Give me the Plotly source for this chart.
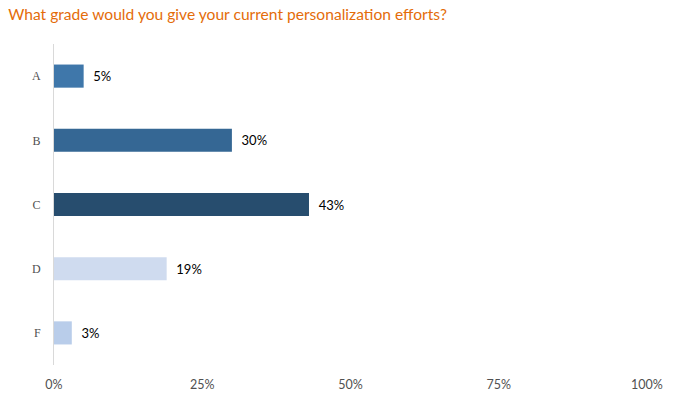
import plotly.graph_objects as go

grades = ["A", "B", "C", "D", "F"]
values = [5, 30, 43, 19, 3]
labels = ["5%", "30%", "43%", "19%", "3%"]
colors = ["#3f77aa", "#356794", "#274d6e", "#cfdbef", "#b9cdea"]
xticks = [0, 25, 50, 75, 100]
xticklabels = ["0%", "25%", "50%", "75%", "100%"]

fig = go.Figure(go.Bar(
    x=values, y=grades, orientation="h",
    marker=dict(color=colors, line=dict(width=0)),
    width=0.36,
    text=labels, texttemplate="\u00a0\u00a0%{text}", textposition="outside",
    textfont=dict(family="Lato, Open Sans, sans-serif", size=13, color="#000000"),
    cliponaxis=False,
))

fig.update_layout(
    width=679, height=403,
    margin=dict(l=54, r=32, t=44, b=38),
    paper_bgcolor="white", plot_bgcolor="white",
    showlegend=False,
    title=dict(text="What grade would you give your current personalization efforts?",
               x=0.012, xanchor="left", y=0.964, yanchor="middle",
               font=dict(family="Lato, Open Sans, sans-serif", size=15.6, color="#e46c0a")),
    xaxis=dict(range=[0, 100], tickvals=xticks, ticktext=xticklabels,
               showgrid=False, zeroline=False, showline=False, ticks="",
               ticklabelstandoff=10,
               tickfont=dict(family="Lato, Open Sans, sans-serif", size=12.5, color="#505050")),
    yaxis=dict(autorange="reversed", showgrid=False, zeroline=False,
               showline=True, linecolor="#d9d9d9", linewidth=1, ticks="",
               ticklabelstandoff=10,
               tickfont=dict(family="Liberation Serif, serif", size=12, color="#505050")),
)

fig.write_html("out.html")
